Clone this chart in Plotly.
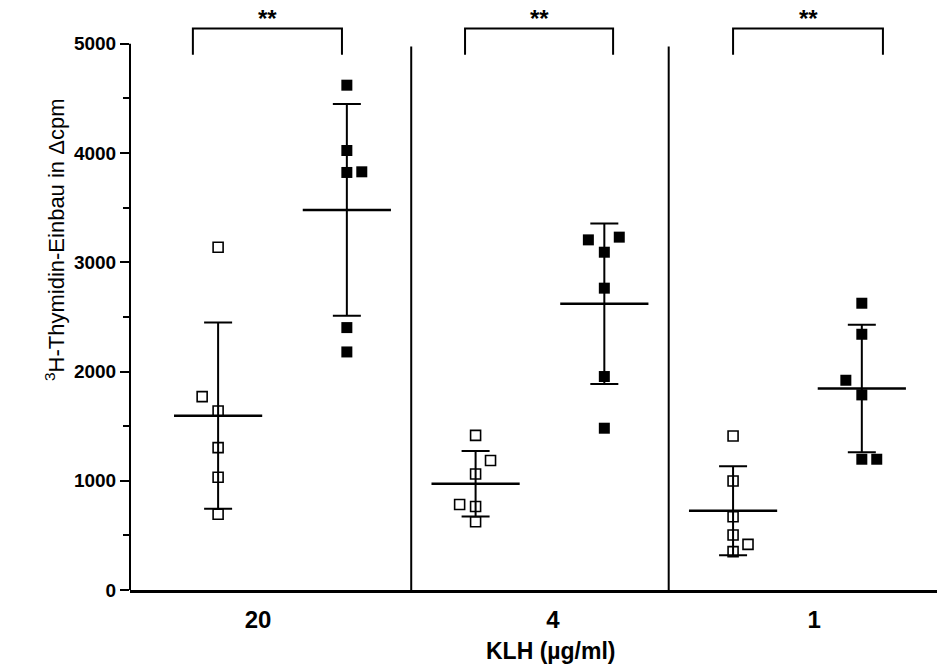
import numpy as np
import plotly.graph_objects as go

# ---- data ----
categories = ["20", "4", "1"]
open_values = [
    [3138, 1770, 1639, 1303, 1032, 693],     # 20 µg/ml, open squares
    [1415, 1185, 1062, 782, 765, 625],       # 4 µg/ml
    [1410, 998, 671, 504, 418, 351],         # 1 µg/ml
]
filled_values = [
    [4621, 4023, 3822, 3828, 2402, 2179],    # 20 µg/ml, filled squares
    [3205, 3230, 3092, 2763, 1954, 1481],    # 4 µg/ml
    [2625, 2341, 1920, 1786, 1197, 1197],    # 1 µg/ml
]
significance = ["**", "**", "**"]
y_ticks = [0, 1000, 2000, 3000, 4000, 5000]
y_minor_ticks = [500, 1500, 2500, 3500, 4500]

# ---- layout helpers (positions, not data) ----
open_jitter = [[0, -0.062, 0, 0, 0, 0],
               [0, 0.058, 0, -0.062, 0, 0],
               [0, 0, 0, 0, 0.058, 0]]
filled_jitter = [[0, 0, 0, 0.058, 0, 0],
                 [-0.062, 0.058, 0, 0, 0, 0],
                 [0, 0, -0.062, 0, 0, 0.058]]
offset = 0.25
bracket_x = [(-0.348, 0.231), (0.709, 1.284), (1.750, 2.332)]
label_x = [-0.095, 1.05, 2.065]

fig = go.Figure()

for g in range(len(categories)):
    xo = [g - offset + j for j in open_jitter[g]]
    xf = [g + offset + j for j in filled_jitter[g]]
    fig.add_trace(go.Scatter(
        x=xo, y=open_values[g], mode="markers",
        marker=dict(symbol="square", size=10, color="white",
                    line=dict(color="black", width=1.6)),
        showlegend=False, hoverinfo="y"))
    fig.add_trace(go.Scatter(
        x=xf, y=filled_values[g], mode="markers",
        marker=dict(symbol="square", size=11, color="black",
                    line=dict(color="black", width=0)),
        showlegend=False, hoverinfo="y"))

# mean +/- SD
for g in range(len(categories)):
    for vals, pos in ((open_values[g], g - offset), (filled_values[g], g + offset)):
        m = float(np.mean(vals))
        sd = float(np.std(vals, ddof=1))
        fig.add_trace(go.Scatter(
            x=[pos], y=[m], mode="markers",
            marker=dict(symbol="line-ew", size=63,
                        line=dict(color="black", width=2.5)),
            error_y=dict(type="data", array=[sd], visible=True,
                         color="black", thickness=2, width=14),
            showlegend=False, hoverinfo="y"))

shapes = []
# y axis line (only up to 5000)
shapes.append(dict(type="line", xref="paper", yref="y", x0=0, x1=0,
                   y0=0, y1=5000, line=dict(color="black", width=2)))
# group separators
for s in (0.5, 1.5):
    shapes.append(dict(type="line", xref="x", yref="y", x0=s, x1=s,
                       y0=0, y1=4975, line=dict(color="black", width=2)))
# significance brackets
annotations = []
for (x0, x1), txt in zip(bracket_x, significance):
    shapes.append(dict(type="path", xref="x", yref="y",
                       path=f"M {x0},4900 L {x0},5140 L {x1},5140 L {x1},4900",
                       line=dict(color="black", width=2)))
    annotations.append(dict(x=(x0 + x1) / 2, y=5140, xref="x", yref="y",
                            text="<b>" + txt + "</b>", showarrow=False,
                            xanchor="center", yanchor="bottom", yshift=-6,
                            font=dict(family="Liberation Sans", size=24,
                                      color="black")))

annotations.append(dict(x=(551 - 130) / 807, y=(590 - 651) / 579,
                        xref="paper", yref="paper",
                        xanchor="center", yanchor="middle",
                        text="<b>KLH (µg/ml)</b>", showarrow=False,
                        font=dict(family="Liberation Sans", size=23,
                                  color="black")))
annotations.append(dict(x=(55 - 130) / 807, y=(590 - 240) / 579,
                        xref="paper", yref="paper", textangle=-90,
                        xanchor="center", yanchor="middle",
                        text="<sup>3</sup>H-Thymidin-Einbau in Δcpm",
                        showarrow=False,
                        font=dict(family="Liberation Sans", size=22,
                                  color="black")))

fig.update_layout(
    width=937, height=668,
    margin=dict(l=130, r=0, t=11, b=78),
    paper_bgcolor="white", plot_bgcolor="white",
    shapes=shapes, annotations=annotations,
    xaxis=dict(range=[-0.5922, 2.542], showgrid=False, zeroline=False,
               showline=True, linecolor="black", linewidth=3,
               tickmode="array", tickvals=label_x, ticktext=categories,
               ticks="", ticklabelstandoff=6,
               tickfont=dict(family="Liberation Sans", size=24,
                             color="black", weight="bold")),
    yaxis=dict(range=[0, 5300], showgrid=False, zeroline=False,
               showline=False, tickmode="array", tickvals=y_ticks,
               ticks="outside", ticklen=9, tickwidth=1.5, tickcolor="black",
               minor=dict(tickmode="array", tickvals=y_minor_ticks,
                          ticks="outside", ticklen=6, tickwidth=1.5,
                          tickcolor="black"),
               tickfont=dict(family="Liberation Sans", size=19,
                             color="black", weight="bold")),
)

fig.write_html("out.html")
